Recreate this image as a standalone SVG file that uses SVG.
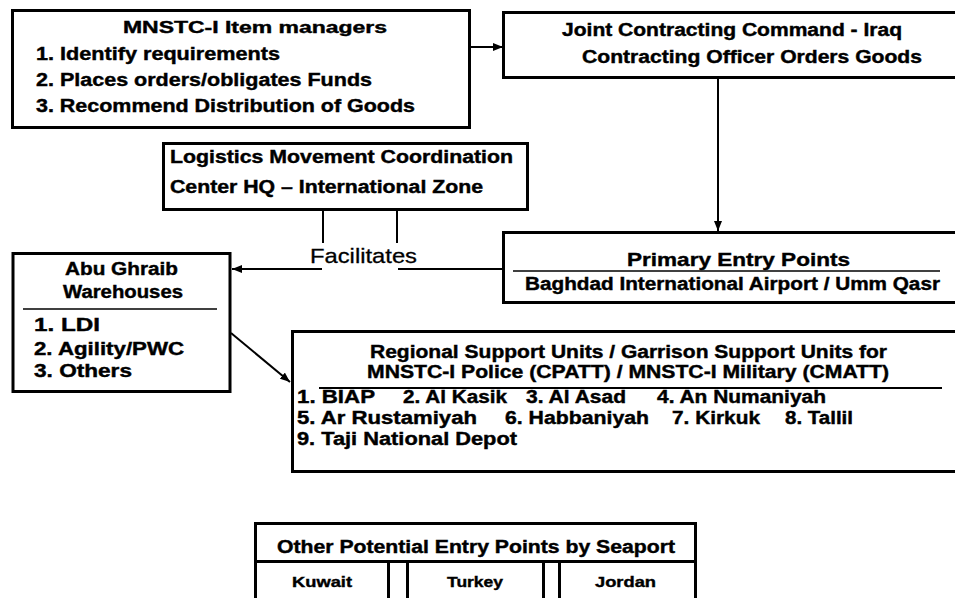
<svg xmlns="http://www.w3.org/2000/svg" width="955" height="598" viewBox="0 0 955 598">
<defs>
<style>
.box{fill:#fff;stroke:#000;stroke-width:3}
.t{font-family:"Liberation Sans",Arial,sans-serif;font-weight:bold;fill:#000;stroke:#000;stroke-width:0.4;font-size:17.5px}
.s{font-size:15px}
.conn{stroke:#000;stroke-width:2;fill:none}
.ul{stroke:#000;stroke-width:1.5}
</style>
<marker id="ah" markerUnits="userSpaceOnUse" markerWidth="10" markerHeight="8" refX="10" refY="4" orient="auto">
<path d="M0,0 L10,4 L0,8 z" fill="#000"/>
</marker>
</defs>
<rect width="955" height="598" fill="#fff"/>

<g id="connectors">
<line class="conn" x1="471" y1="47" x2="503" y2="47" marker-end="url(#ah)"/>
<line class="conn" x1="718" y1="78" x2="718" y2="231" marker-end="url(#ah)"/>
<line class="conn" x1="502" y1="269" x2="398" y2="269"/>
<line class="conn" x1="322" y1="269" x2="232" y2="269" marker-end="url(#ah)"/>
<line class="conn" x1="323" y1="210" x2="323" y2="243"/>
<line class="conn" x1="397" y1="210" x2="397" y2="243"/>
<line class="conn" x1="231" y1="333" x2="290" y2="382" marker-end="url(#ah)"/>
<text x="310" y="263" textLength="107" lengthAdjust="spacingAndGlyphs" style="font-family:'Liberation Sans',Arial,sans-serif;font-size:21px;fill:#000;stroke:#000;stroke-width:0.3">Facilitates</text>
</g>

<g id="mnstc">
<rect class="box" x="12.5" y="10.5" width="457" height="117"/>
<text class="t" x="123" y="33" textLength="264" lengthAdjust="spacingAndGlyphs" style="font-size:16px">MNSTC-I Item managers</text>
<text class="t" x="36" y="60" textLength="244" lengthAdjust="spacingAndGlyphs">1. Identify requirements</text>
<text class="t" x="36" y="86" textLength="336" lengthAdjust="spacingAndGlyphs">2. Places orders/obligates Funds</text>
<text class="t" x="36" y="112" textLength="379" lengthAdjust="spacingAndGlyphs">3. Recommend Distribution of Goods</text>
</g>

<g id="jcc">
<rect class="box" x="503.5" y="12.5" width="480" height="65"/>
<text class="t" x="562" y="36" textLength="340" lengthAdjust="spacingAndGlyphs">Joint Contracting Command - Iraq</text>
<text class="t" x="582" y="63" textLength="340" lengthAdjust="spacingAndGlyphs">Contracting Officer Orders Goods</text>
</g>

<g id="lmcc">
<rect class="box" x="163.5" y="143.5" width="364" height="66"/>
<text class="t" x="170" y="163" textLength="343" lengthAdjust="spacingAndGlyphs">Logistics Movement Coordination</text>
<text class="t" x="170" y="193" textLength="313" lengthAdjust="spacingAndGlyphs">Center HQ – International Zone</text>
</g>

<g id="primary">
<rect class="box" x="503.5" y="232.5" width="480" height="70"/>
<text class="t" x="627" y="266" textLength="223" lengthAdjust="spacingAndGlyphs" style="font-size:18.5px">Primary Entry Points</text>
<line class="ul" x1="513" y1="271" x2="940" y2="271"/>
<text class="t" x="525" y="290" textLength="415" lengthAdjust="spacingAndGlyphs">Baghdad International Airport / Umm Qasr</text>
</g>

<g id="abughraib">
<rect class="box" x="13" y="253.5" width="217" height="138"/>
<text class="t" x="65" y="275" textLength="113" lengthAdjust="spacingAndGlyphs">Abu Ghraib</text>
<text class="t" x="63" y="298" textLength="120" lengthAdjust="spacingAndGlyphs">Warehouses</text>
<line class="ul" x1="23" y1="309" x2="217" y2="309"/>
<text class="t" x="34" y="331" textLength="66" lengthAdjust="spacingAndGlyphs">1. LDI</text>
<text class="t" x="34" y="355" textLength="150" lengthAdjust="spacingAndGlyphs">2. Agility/PWC</text>
<text class="t" x="34" y="377" textLength="98" lengthAdjust="spacingAndGlyphs">3. Others</text>
</g>

<g id="regional">
<rect class="box" x="292.5" y="331.5" width="700" height="140"/>
<text class="t" x="370" y="358" textLength="517" lengthAdjust="spacingAndGlyphs">Regional Support Units / Garrison Support Units for</text>
<text class="t" x="367" y="378" textLength="522" lengthAdjust="spacingAndGlyphs">MNSTC-I Police (CPATT) / MNSTC-I Military (CMATT)</text>
<line class="ul" x1="319" y1="388" x2="942" y2="388" style="stroke-width:2"/>
<text class="t" x="297" y="403" textLength="78" lengthAdjust="spacingAndGlyphs">1. BIAP</text>
<text class="t" x="403" y="403" textLength="104" lengthAdjust="spacingAndGlyphs">2. Al Kasik</text>
<text class="t" x="526" y="403" textLength="100" lengthAdjust="spacingAndGlyphs">3. Al Asad</text>
<text class="t" x="657" y="403" textLength="169" lengthAdjust="spacingAndGlyphs">4. An Numaniyah</text>
<text class="t" x="297" y="424" textLength="180" lengthAdjust="spacingAndGlyphs">5. Ar Rustamiyah</text>
<text class="t" x="505" y="424" textLength="144" lengthAdjust="spacingAndGlyphs">6. Habbaniyah</text>
<text class="t" x="672" y="424" textLength="88" lengthAdjust="spacingAndGlyphs">7. Kirkuk</text>
<text class="t" x="785" y="424" textLength="68" lengthAdjust="spacingAndGlyphs">8. Tallil</text>
<text class="t" x="297" y="445" textLength="220" lengthAdjust="spacingAndGlyphs">9. Taji National Depot</text>
</g>

<g id="seaports">
<rect class="box" x="255.5" y="523.5" width="440" height="38"/>
<text class="t" x="277" y="553" textLength="398" lengthAdjust="spacingAndGlyphs">Other Potential Entry Points by Seaport</text>
</g>
<g id="kuwait">
<rect class="box" x="255.5" y="561.5" width="133" height="50"/>
<text class="t s" x="292" y="587" textLength="60" lengthAdjust="spacingAndGlyphs">Kuwait</text>
</g>
<g id="turkey">
<rect class="box" x="407.5" y="561.5" width="136" height="50"/>
<text class="t s" x="447" y="587" textLength="56" lengthAdjust="spacingAndGlyphs">Turkey</text>
</g>
<g id="jordan">
<rect class="box" x="559.5" y="561.5" width="136" height="50"/>
<text class="t s" x="595" y="587" textLength="61" lengthAdjust="spacingAndGlyphs">Jordan</text>
</g>
</svg>
